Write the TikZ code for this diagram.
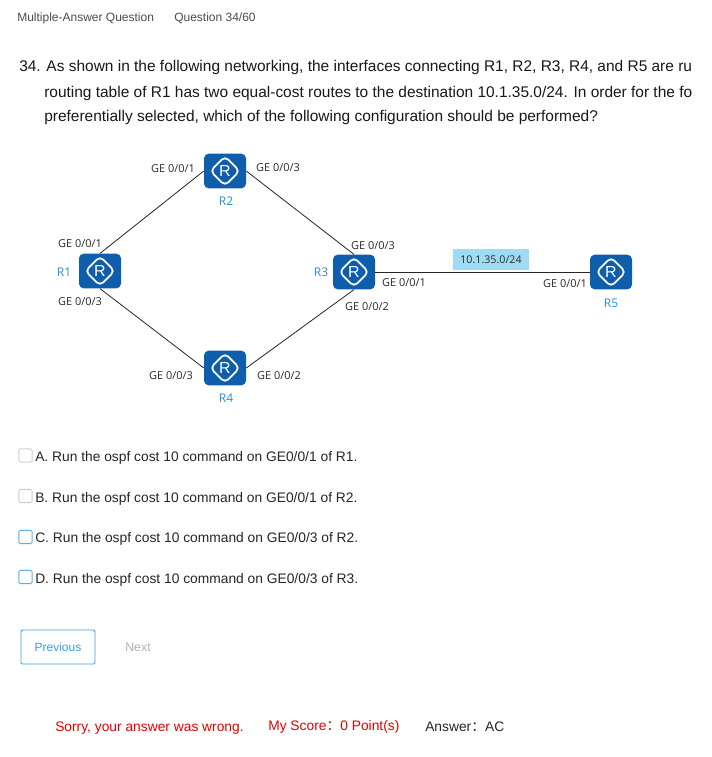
\documentclass[tikz,border=0pt]{standalone}
\usepackage{fontspec}
\setmainfont{Liberation Sans}
\newfontfamily\lblfont{Open Sans}
\newfontfamily\cjk{Noto Sans CJK SC}
\definecolor{routerblue}{HTML}{0F5EAE}
\definecolor{namblue}{HTML}{2A8FD0}
\definecolor{netblue}{HTML}{9DDCF3}
\definecolor{lbl}{HTML}{2A2A2A}
\definecolor{uibtn}{HTML}{3A9FE8}
\definecolor{boxgray}{HTML}{CFCFCF}
\definecolor{boxblue}{HTML}{5AAEE8}
\tikzset{
  x=0.75pt,y=-0.75pt,
  router/.style={rectangle,rounded corners=3.5pt,fill=routerblue,draw=none,
    minimum width=31.5pt,minimum height=26pt,inner sep=0pt,text=white,
    font=\fontsize{12}{12}\selectfont,
    path picture={\draw[white,line width=1.3pt,miter limit=10]
      ([xshift=-11pt]path picture bounding box.center)--
      ([yshift=11pt]path picture bounding box.center)--
      ([xshift=11pt]path picture bounding box.center)--
      ([yshift=-11pt]path picture bounding box.center)--cycle;}},
  portlbl/.style={font=\lblfont\fontsize{8.2}{8.2}\selectfont,text=lbl,inner sep=0pt},
  namelbl/.style={font=\lblfont\fontsize{9}{9}\selectfont,text=namblue,inner sep=0pt},
  link/.style={draw=black!85,line width=0.6pt},
  qtext/.style={font=\fontsize{11.6}{11.6}\selectfont,text=black!90,inner sep=0pt,anchor=west},
  opttext/.style={font=\fontsize{10.35}{10.35}\selectfont,text=black!85,inner sep=0pt,anchor=west},
  hdrtext/.style={font=\fontsize{9}{9}\selectfont,text=black!70,inner sep=0pt,anchor=west},
  redtext/.style={font=\fontsize{10.35}{10.35}\selectfont,text=red!90!black,inner sep=0pt,anchor=west},
  ansbox/.style={rectangle,rounded corners=1.2pt,line width=0.7pt,minimum size=10pt,inner sep=0pt},
}
\begin{document}
\begin{tikzpicture}
\useasboundingbox (0,0) rectangle (711,757);
\fill[white] (0,0) rectangle (711,757);
\node[hdrtext] (h1) at (17,18) {Multiple-Answer Question};
\node[hdrtext] (h2) at (174,18) {Question 34/60};
\node[qtext] (q1) at (19,67.5) {34. As shown in the following networking, the interfaces connecting R1, R2, R3, R4, and R5 are ru};
\node[qtext] (q2) at (44,93.5) {routing table of R1 has two equal-cost routes to the destination 10.1.35.0/24. In order for the fo};
\node[qtext] (q3) at (44,117.5) {preferentially selected, which of the following configuration should be performed?};

\node[router] (R1) at (100,271) {R};
\node[router] (R2) at (225,171) {R};
\node[router] (R3) at (354,272) {R};
\node[router] (R4) at (225,368) {R};
\node[router] (R5) at (611,272) {R};
\draw[link] (R1.north) -- (R2.west);
\draw[link] (R2.east) -- (R3.north);
\draw[link] (R1.south) -- (R4.west);
\draw[link] (R4.east) -- (R3.south);
\draw[link] (R3.east) -- (R5.west);

\node[rectangle,fill=netblue,minimum width=57pt,minimum height=15.5pt,inner sep=0pt,
  font=\lblfont\fontsize{8}{8}\selectfont,text=lbl] (net) at (491,259.5) {10.1.35.0/24};

\node[namelbl] (n1) at (64,272) {R1};
\node[namelbl] (n2) at (226,201) {R2};
\node[namelbl] (n3) at (321,272) {R3};
\node[namelbl] (n4) at (226,398) {R4};
\node[namelbl] (n5) at (611,303) {R5};

\node[portlbl] (p1) at (173,169) {GE 0/0/1};
\node[portlbl] (p2) at (278,168) {GE 0/0/3};
\node[portlbl] (p3) at (80,244) {GE 0/0/1};
\node[portlbl] (p4) at (80,302) {GE 0/0/3};
\node[portlbl] (p5) at (373,246) {GE 0/0/3};
\node[portlbl] (p6) at (404,283) {GE 0/0/1};
\node[portlbl] (p7) at (367,307) {GE 0/0/2};
\node[portlbl] (p8) at (171,376) {GE 0/0/3};
\node[portlbl] (p9) at (279,376) {GE 0/0/2};
\node[portlbl] (p10) at (565,284) {GE 0/0/1};

\node[ansbox,draw=boxgray] (ca) at (25.5,455.5) {};
\node[ansbox,draw=boxgray] (cb) at (25.5,496) {};
\node[ansbox,draw=boxblue] (cc) at (25.5,537) {};
\node[ansbox,draw=boxblue] (cd) at (25.5,577) {};
\node[opttext] (oa) at (35,457.5) {A. Run the ospf cost 10 command on GE0/0/1 of R1.};
\node[opttext] (ob) at (35,498.5) {B. Run the ospf cost 10 command on GE0/0/1 of R2.};
\node[opttext] (oc) at (35,538.5) {C. Run the ospf cost 10 command on GE0/0/3 of R2.};
\node[opttext] (od) at (35,579.5) {D. Run the ospf cost 10 command on GE0/0/3 of R3.};

\node[rectangle,rounded corners=1pt,draw=uibtn,line width=0.7pt,minimum width=55.5pt,minimum height=25.5pt,
  inner sep=0pt,text=uibtn,font=\fontsize{9}{9}\selectfont] (prev) at (58,647) {\raisebox{-0.8pt}{Previous}};
\node[font=\fontsize{9.3}{9.3}\selectfont,text=black!30,inner sep=0pt] (next) at (138,647) {Next};

\node[redtext] (r1) at (55,728) {Sorry, your answer was wrong.};
\node[redtext] (r2) at (268,727) {My Score{\cjk ：}0 Point(s)};
\node[opttext] (r3) at (425,726.5) {Answer{\cjk ：}AC};
\end{tikzpicture}
\end{document}
